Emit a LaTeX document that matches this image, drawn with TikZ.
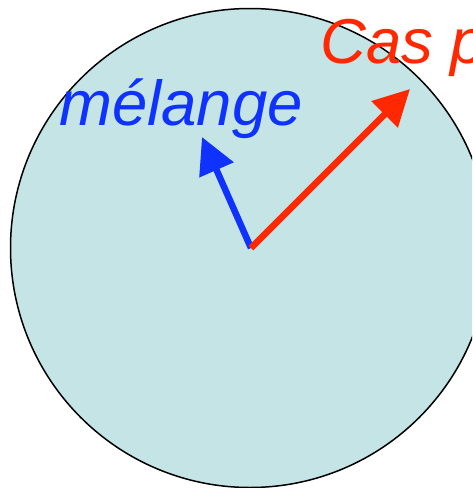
\documentclass[tikz,border=0pt]{standalone}
\usepackage{fontspec}
\setmainfont{Liberation Sans}
\usetikzlibrary{arrows.meta}
\definecolor{discfill}{RGB}{196,228,230}
\definecolor{vred}{RGB}{255,40,0}
\definecolor{vblue}{RGB}{15,50,255}
\tikzset{
  vec/.style={line width=6.5pt, -{Triangle[length=36pt,width=36pt]}},
  lab/.style={font=\fontsize{63.5}{63.5}\selectfont\itshape, inner sep=0pt, anchor=base west}
}
\begin{document}
\begin{tikzpicture}[x=1pt,y=-1pt]
\useasboundingbox (0,0) rectangle (472,488);
\clip (0,0) rectangle (472,488);
\draw[fill=discfill, line width=1.5pt] (250,248) circle (239.5);
\coordinate (o) at (251,248);
\coordinate (b) at (202,137);
\coordinate (r) at (410,89);
\draw[vec, vblue] (o) -- (b);
\draw[vec, vred] (o) -- (r);
\node[lab, text=vblue] (m) at (59,125) {mélange};
\node[lab, text=vred] (c) at (320,63) {Cas p};
\end{tikzpicture}
\end{document}
